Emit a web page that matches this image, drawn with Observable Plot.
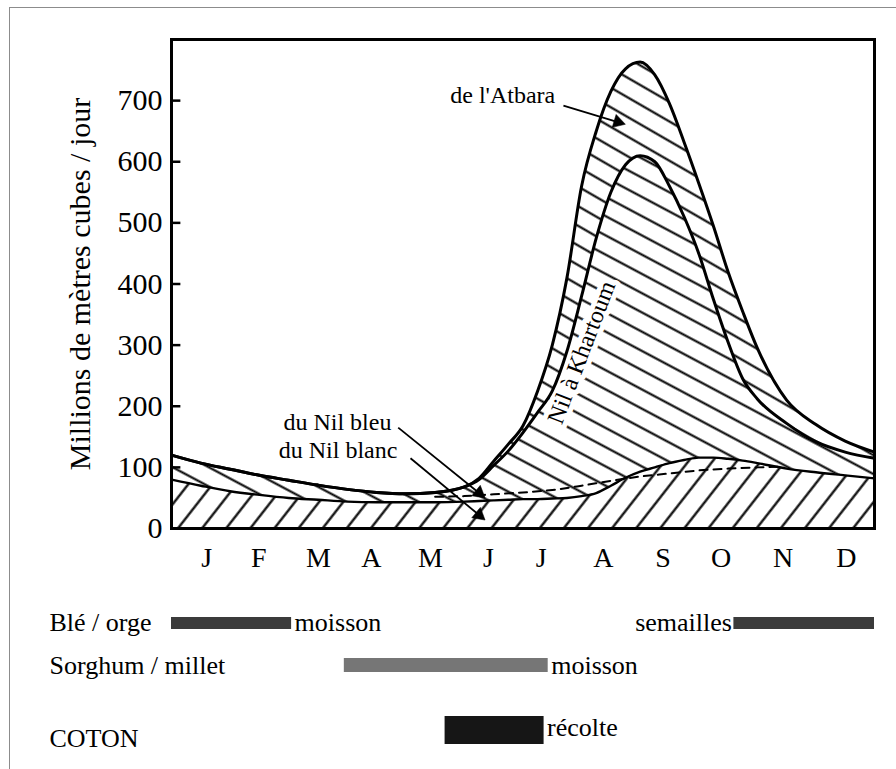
<!DOCTYPE html>
<html><head><meta charset="utf-8">
<script src="https://cdn.jsdelivr.net/npm/d3@7"></script>
<script src="https://cdn.jsdelivr.net/npm/@observablehq/plot@0.6"></script>
<style>
body{margin:0;background:#fff;}
#wrap{position:relative;width:896px;height:769px;overflow:hidden;background:#fff;font-family:"Liberation Serif","Times New Roman",serif;}
#border{position:absolute;left:9px;top:7px;right:-10px;bottom:-10px;border-left:1.5px solid #8c8c8c;border-top:1.5px solid #8c8c8c;}
#chart,.row{position:absolute;left:0;}
#chart{top:0;}
svg{overflow:visible;}
</style></head><body>
<div id="wrap"><div id="border"></div><div id="chart"></div>
<div id="r0" class="row" style="top:603px"></div>
<div id="r1" class="row" style="top:645px"></div>
<div id="r2" class="row" style="top:710px"></div>
</div>
<script>
// ---------- data ----------
const monthLabels = ["J","F","M","A","M","J","J","A","S","O","N","D"];
const monthPos = [0.6,1.49,2.51,3.41,4.42,5.41,6.31,7.37,8.39,9.38,10.44,11.52];
const xGrid = [0,0.5,1,1.5,2,2.5,3,3.5,4,4.5,5,5.25,5.5,5.75,6,6.25,6.5,6.75,7,7.25,7.5,7.75,8,8.25,8.5,8.75,9,9.25,9.5,9.75,10,10.5,11,11.5,12];
// Nil à Khartoum + Atbara (top curve)
const totalFlow    = [120,107,97,87,79,71,64,59,57,59,68,82,110,138,168,225,300,410,560,650,715,752,763,742,695,632,565,495,420,355,295,210,170,143,125];
// Nil à Khartoum (Nil bleu + Nil blanc)
const khartoumFlow = [120,107,97,87,79,71,64,59,57,59,68,80,103,127,157,190,225,290,380,475,550,595,610,600,560,510,450,375,305,245,212,172,142,125,115];
// du Nil blanc (bottom curve)
const blancFlow    = [80,70,61,55,50,47,44,43,43,43,44,45,46,47,48,48,49,50,53,58,70,83,93,100,107,112,116,116,114,111,107,98,92,87,82];
// dashed curve
const dashX    = [4.5,5,5.5,6,6.5,7,7.5,8,8.5,9,9.5,10,10.4];
const dashFlow = [52,53,56,59,63,70,78,85,90,95,98,100,101];
const yTicks = [0,100,200,300,400,500,600,700];
const yTitle = "Millions de mètres cubes / jour";

const cropRows  = ["Blé / orge","Sorghum / millet","COTON"];
const cropRow   = [0,0,1,2];
const cropStart = [0,9.6,2.95,4.67];
const cropEnd   = [2.05,12,6.43,6.36];
const cropNote  = ["moisson","semailles","moisson","récolte"];
const noteSide  = ["after","before","after","after"];

// ---------- build ----------
const FONT = "Liberation Serif, Times New Roman, serif";
const curve = "monotone-x";
const data = xGrid.map((x,i)=>({x, total: totalFlow[i], kh: khartoumFlow[i], blanc: blancFlow[i]}));
const dash = dashX.map((x,i)=>({x, v: dashFlow[i]}));

const labels = [
  {x:6.55, y:708, t:"de l'Atbara", anchor:"end"},
  {x:1.91, y:173, t:"du Nil bleu", anchor:"start"},
  {x:1.83, y:128, t:"du Nil blanc", anchor:"start"}
];
const arrows = [
  {x1:6.69, y1:692, x2:7.62, y2:665},
  {x1:3.87, y1:165, x2:5.25, y2:58},
  {x1:4.08, y1:115, x2:5.25, y2:22}
];

const W = 896, H = 580, ML = 171, MR = 22, MT = 39, MB = 52;
const sx = Plot.scale({x:{domain:[0,12], range:[ML, W-MR]}});
const sy = Plot.scale({y:{domain:[0,800], range:[H-MB, MT]}});
arrows.forEach(a=>{
  const dx = sx.apply(a.x2)-sx.apply(a.x1), dy = sy.apply(a.y2)-sy.apply(a.y1);
  a.angle = Math.atan2(dx, -dy)*180/Math.PI;
});

const chart = Plot.plot({
  width:W, height:H, marginLeft:ML, marginRight:MR, marginTop:MT, marginBottom:MB,
  x:{domain:[0,12]}, y:{domain:[0,800]},
  style:{fontFamily:FONT, background:"transparent", color:"black", overflow:"visible"},
  marks:[
    Plot.areaY(data,{x:"x", y1:0, y2:"blanc", fill:"url(#hSlash)", curve}),
    Plot.areaY(data,{x:"x", y1:"blanc", y2:"kh", fill:"url(#hBack)", curve}),
    Plot.areaY(data,{x:"x", y1:"kh", y2:"total", fill:"url(#hAtb)", curve}),
    Plot.text(["Nil à Khartoum"], {x:7.0, y:288, rotate:-69, fontSize:24, fill:"white", stroke:"white", strokeWidth:10}),
    Plot.line(dash,{x:"x", y:"v", strokeDasharray:"8,6", strokeWidth:2, curve}),
    Plot.line(data,{x:"x", y:"blanc", strokeWidth:2.4, curve}),
    Plot.line(data,{x:"x", y:"kh", strokeWidth:3, curve}),
    Plot.line(data,{x:"x", y:"total", strokeWidth:3, curve}),
    Plot.text(["Nil à Khartoum"], {x:7.0, y:288, rotate:-69, fontSize:24, fill:"black"}),
    Plot.ruleY(yTicks.filter(d=>d>0), {y:d=>d, x1:0, x2:0.16, strokeWidth:2.5}),
    Plot.frame({strokeWidth:3}),
    Plot.axisY(yTicks, {tickSize:0, tickPadding:9, fontSize:30, label:null}),
    Plot.axisX(monthPos, {tickSize:0, tickPadding:19, fontSize:28, tickFormat:(d)=>monthLabels[monthPos.indexOf(d)], label:null}),
    Plot.text([yTitle], {frameAnchor:"left", dx:-91, rotate:-90, textAnchor:"middle", fontSize:30}),
    Plot.text(labels.filter(d=>d.anchor==="end"), {x:"x", y:"y", text:"t", textAnchor:"end", fontSize:24}),
    Plot.text(labels.filter(d=>d.anchor==="start"), {x:"x", y:"y", text:"t", textAnchor:"start", fontSize:24}),
    Plot.link(arrows, {x1:"x1", y1:"y1", x2:"x2", y2:"y2", strokeWidth:1.8}),
    Plot.dot(arrows, {x:"x2", y:"y2", symbol:"triangle", r:5, fill:"black", stroke:"black", strokeWidth:0.5, rotate:"angle"})
  ]
});

// defs: hatching patterns
const NS = "http://www.w3.org/2000/svg";
function el(tag, attrs){ const e=document.createElementNS(NS,tag); for(const k in attrs) e.setAttribute(k, attrs[k]); return e; }
const defs = el("defs",{});
function hatch(id, angle, spacing, w){
  const p = el("pattern",{id, patternUnits:"userSpaceOnUse", width:spacing, height:spacing, patternTransform:`rotate(${angle})`});
  p.appendChild(el("line",{x1:-1, y1:spacing/2, x2:spacing+1, y2:spacing/2, stroke:"#000", "stroke-width":w}));
  defs.appendChild(p);
}
hatch("hSlash", -52, 19, 2.2);
hatch("hBack", 28, 17, 2.1);
hatch("hAtb", 30, 17, 2.1);
chart.insertBefore(defs, chart.firstChild);
document.getElementById("chart").appendChild(chart);

// ---------- crop calendar rows ----------
const periods = cropRow.map((r,i)=>({row:r, start:cropStart[i], end:cropEnd[i], note:cropNote[i], side:noteSide[i]}));
const rowStyle = [
  {thick:12, color:"#3b3b3b", labelDy:-1, noteDy:-1},
  {thick:14, color:"#767676", labelDy:0, noteDy:0},
  {thick:28, color:"#161616", labelDy:8, noteDy:-3}
];
cropRows.forEach((name,i)=>{
  const h = 40, s = rowStyle[i];
  const bars = periods.filter(p=>p.row===i);
  const inset = (h - s.thick)/2;
  const p = Plot.plot({
    width:W, height:h, marginLeft:ML, marginRight:MR, marginTop:0, marginBottom:0,
    x:{domain:[0,12], axis:null},
    style:{fontFamily:FONT, background:"transparent", color:"black", overflow:"visible"},
    marks:[
      Plot.barX(bars,{x1:"start", x2:"end", fill:s.color, insetTop:inset, insetBottom:inset}),
      Plot.text([name],{frameAnchor:"left", dx:-122, textAnchor:"start", fontSize:26, dy:s.labelDy}),
      Plot.text(bars.filter(d=>d.side==="after"),{x:"end", text:"note", textAnchor:"start", dx:3, fontSize:26, dy:s.noteDy}),
      Plot.text(bars.filter(d=>d.side==="before"),{x:"start", text:"note", textAnchor:"end", dx:-2, fontSize:26, dy:s.noteDy})
    ]
  });
  document.getElementById("r"+i).appendChild(p);
});
</script>
</body></html>
